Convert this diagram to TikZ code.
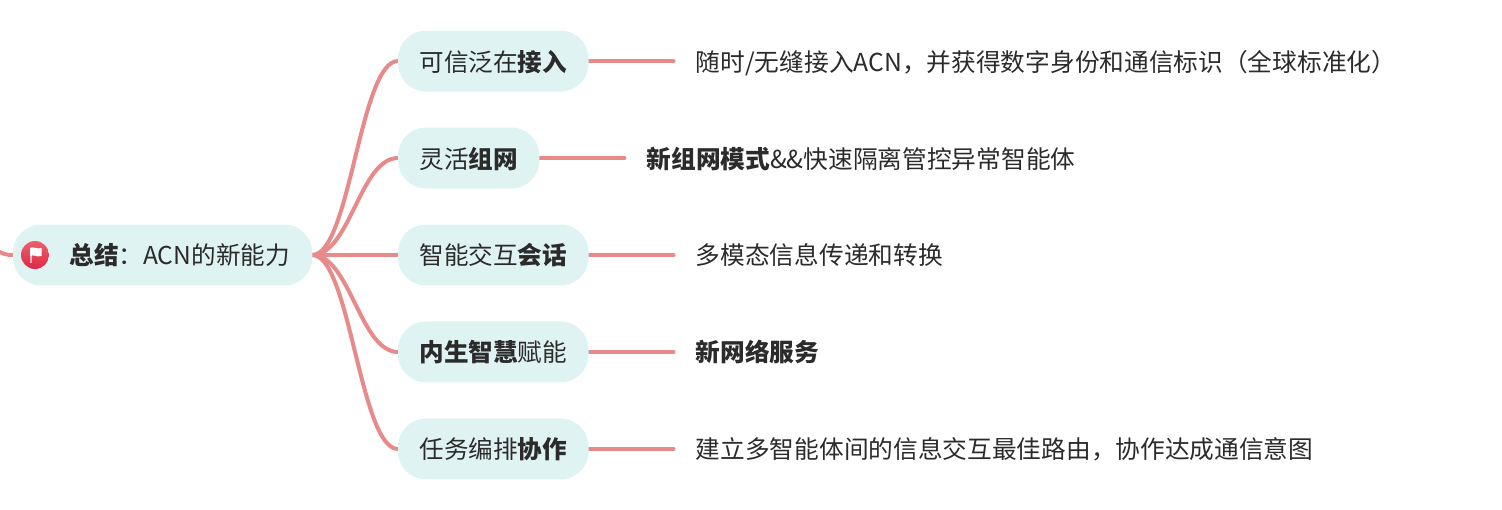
\documentclass[tikz,border=0pt]{standalone}
\usepackage{fontspec}
\setmainfont{Noto Sans CJK SC}
\usetikzlibrary{positioning,backgrounds}
\definecolor{pill}{HTML}{E0F3F3}
\definecolor{branch}{HTML}{E88A8A}
\definecolor{ink}{HTML}{2B2B2B}
\definecolor{flagtop}{HTML}{F0606C}
\definecolor{flagbot}{HTML}{DC2846}
\begin{document}
\begin{tikzpicture}[x=0.02cm,y=-0.02cm,
			every node/.style={
				align=center,
				inner ysep=0pt,
				outer sep=0pt,
				text=ink,
				text height=0.42cm,
				text depth=0.02cm,
				font=\fontsize{14pt}{16pt}\selectfont},
			topic/.style={
				fill=pill,
				rounded corners=0.56cm,
				minimum height=1.22cm,
				inner xsep=0.43cm},
			leaf/.style={
				font=\fontsize{14.06pt}{16pt}\selectfont,
				inner xsep=0.445cm},
			link/.style={
				draw=branch,
				line width=0.08cm,
				line cap=round}]
			
			\useasboundingbox (0,0) rectangle (1502,510);
			
			\coordinate (tail) at (-4,250);
			
			\node[topic,anchor=west,inner xsep=0.45cm] (root) at (13,255) {\hspace*{0.68cm}\textbf{总结}：ACN的新能力};
			
			\node[topic,anchor=west] (huihua) at (398,255) {智能交互\textbf{会话}};
			
			\node[topic,above right=0.72cm and 0cm of huihua.north west] (zuwang) {灵活\textbf{组网}};
			
			\node[topic,above right=0.72cm and 0cm of zuwang.north west] (jieru) {可信泛在\textbf{接入}};
			
			\node[topic,below right=0.72cm and 0cm of huihua.south west] (funeng) {\textbf{内生智慧}赋能};
			
			\node[topic,below right=0.72cm and 0cm of funeng.south west] (xiezuo) {任务编排\textbf{协作}};
			
			\node[leaf,right=1.7cm of jieru.east,anchor=west] (jieruleaf) {随时/无缝接入ACN，并获得数字身份和通信标识（全球标准化）};
			
			\node[leaf,right=1.7cm of zuwang.east,anchor=west] (zuwangleaf) {\textbf{新组网模式}\&\&快速隔离管控异常智能体};
			
			\node[leaf,right=1.7cm of huihua.east,anchor=west] (huihualeaf) {多模态信息传递和转换};
			
			\node[leaf,right=1.7cm of funeng.east,anchor=west] (funengleaf) {\textbf{新网络服务}};
			
			\node[leaf,right=1.7cm of xiezuo.east,anchor=west] (xiezuoleaf) {建立多智能体间的信息交互最佳路由，协作达成通信意图};
			
			\begin{scope}[on background layer]
				\draw[link] (tail) .. controls (3,254) and (6,255) .. (root.west);
				
				\foreach \t/\ty in {jieru/61,zuwang/158,huihua/255,funeng/352,xiezuo/449}{
					\draw[link] (root.east) .. controls (350,255) and (360,\ty) .. (\t.west);
					\draw[link] (\t.east)--(\t leaf.west);
				}
			\end{scope}
			
			\node[circle,minimum size=0.56cm,inner sep=0pt,top color=flagtop,bottom color=flagbot] (flag) at (35,255) {};
			
			\fill[white] (30,248) .. controls (33,246) and (37,249.5) .. (41.5,248) -- (41.5,256) .. controls (37,257.5) and (33,254) .. (30,256) -- cycle;
			\fill[white,opacity=0.6] (30,248) rectangle (31.5,263);
			
		\end{tikzpicture}
\end{document}
